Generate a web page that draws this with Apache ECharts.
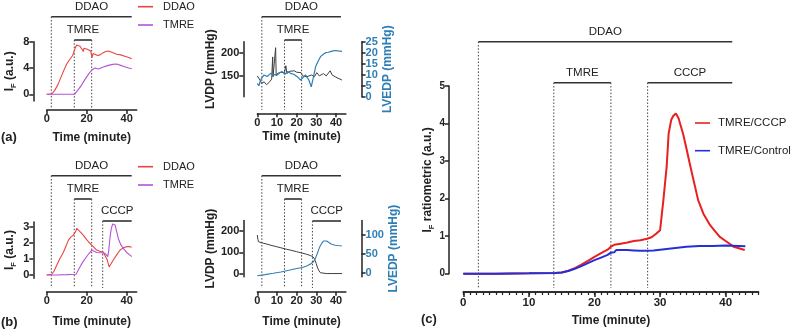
<!DOCTYPE html>
<html><head><meta charset="utf-8">
<script src="https://cdn.jsdelivr.net/npm/echarts@6/dist/echarts.min.js"></script>
<style>html,body{margin:0;padding:0;background:#fff}#c{width:793px;height:329px}</style>
</head><body><div id="c"></div>
<script>
// ---------------- data ----------------
// Panel (a) left: fluorescence intensity
const aDdaoT = [0, 1, 2.5, 4, 5.5, 7, 8.5, 10, 11.5, 13, 13.8, 14.3, 15, 16, 16.7, 17.5, 18.3, 18.6, 19.2, 20, 21, 22, 22.3, 22.6, 23.2, 24.2, 25.5, 26.7, 28, 29.5, 30.8, 32.5, 35, 37, 39, 41, 42.5];
const aDdaoV = [0, 0, 0.05, 0.6, 1.4, 2.5, 3.6, 4.6, 5.3, 5.9, 6.1, 7.1, 7.5, 7.2, 7.3, 7.1, 6.5, 7.0, 7.0, 6.9, 6.8, 6.6, 6.9, 5.6, 6.2, 6.1, 5.9, 6.0, 6.3, 6.5, 6.6, 6.4, 6.1, 6.0, 5.8, 5.6, 5.4];
const aTmreT = [0, 5, 10, 14, 15, 17, 19, 21, 22.5, 23.3, 24.2, 25.8, 28, 30.8, 33, 35, 37, 39, 41, 42.5];
const aTmreV = [0, 0, 0, 0.02, 0.1, 1.2, 2.2, 3.1, 3.7, 3.8, 4.0, 3.85, 4.1, 4.4, 4.55, 4.6, 4.4, 4.2, 4.0, 3.9];
// Panel (a) right: LVDP / LVEDP
const aLvdpT = [0, 0.5, 1.5, 2.2, 3.5, 4.7, 6, 7.3, 7.8, 8.0, 8.3, 8.8, 9.3, 9.6, 10.2, 11, 12, 13, 13.8, 14.5, 15, 16.5, 17.5, 18.8, 20, 21, 22.2, 23, 24, 25, 26, 27.6, 29, 30.2, 31.5, 33.6, 35, 37, 38, 39.6, 41, 43];
const aLvdpV = [150, 148, 140, 134, 137, 131, 136, 143, 191, 148, 150, 152, 211, 150, 155, 152, 158, 156, 157, 172, 155, 160, 162, 161, 158, 162, 157, 150, 152, 148, 145, 152, 148, 157, 150, 155, 150, 161, 152, 148, 145, 141];
const aLvedpT = [0, 0.8, 1.7, 3.4, 5, 6.8, 8.5, 10.2, 11.5, 12.7, 14, 15.5, 16.9, 18.5, 20.3, 21.2, 22, 23, 24.5, 25.3, 26.2, 27.4, 28.4, 29.6, 30.8, 32.1, 33.5, 34.7, 36, 37.2, 38.5, 39.8, 41, 43];
const aLvedpV = [6, 5, 7.6, 9.9, 9.2, 10.6, 10, 9.9, 11, 11.4, 10.2, 11.5, 10.6, 10.2, 9.1, 10, 7.6, 8.5, 9.9, 8.8, 7.6, 4.5, 8.4, 13.6, 16, 18.2, 19.3, 20, 20.2, 20.5, 20.8, 21, 20.8, 20.6];
// Panel (b) left
const bDdaoT = [0, 1, 2.5, 3.5, 5, 6.5, 8.3, 10, 10.8, 12, 13.3, 14, 14.5, 15, 16, 17, 18.3, 20, 21, 22.5, 23.5, 25, 26.5, 28.3, 29.3, 30.3, 31.2, 32, 33.3, 35, 36.7, 38.5, 40, 41.5, 42.5];
const bDdaoV = [0, 0, 0.05, 0.2, 0.6, 1.0, 1.4, 1.9, 2.15, 2.35, 2.48, 2.55, 2.7, 2.9, 2.8, 2.65, 2.48, 2.2, 2.05, 1.86, 1.75, 1.55, 1.48, 1.41, 1.3, 0.93, 0.5, 0.6, 0.93, 1.25, 1.55, 1.7, 1.76, 1.76, 1.72];
const bTmreT = [0, 5, 10, 14.7, 16, 18, 20, 22.5, 23.5, 25, 27, 29.2, 30, 30.5, 31, 31.7, 32.3, 33, 33.6, 34.2, 35, 35.8, 37, 38.3, 40, 41.5, 42.5];
const bTmreV = [0, 0, 0.02, 0.05, 0.35, 0.8, 1.15, 1.55, 1.5, 1.4, 1.38, 1.35, 1.25, 1.14, 1.5, 2.38, 2.9, 3.17, 3.25, 3.1, 2.7, 2.27, 1.9, 1.65, 1.4, 1.25, 1.14];
// Panel (b) right
const bLvdpT = [0, 0.3, 0.6, 1.5, 3, 4.5, 6.4, 8, 9.8, 12, 14.9, 17, 20, 22.5, 25.1, 27, 28.2, 29, 29.9, 30.5, 31.1, 31.6, 32, 33, 35, 38, 41, 43];
const bLvdpV = [180, 160, 149, 147, 142, 139, 134, 130, 126, 121, 114, 110, 103, 97, 91, 85, 80, 70, 49, 32, 18, 10, 6, 3, 2, 2, 2, 2];
const bLvedpT = [0, 4, 8.1, 12, 16.6, 20, 23, 25.1, 27, 28.5, 29.5, 30.5, 31.5, 32.7, 33.6, 34.4, 35.2, 36.1, 37.5, 39.5, 41, 42.9];
const bLvedpV = [-8, -5, -1.6, 2, 7, 11, 14, 18, 23, 29, 38, 51, 66, 78, 84, 86, 84, 80, 76, 73, 72, 71];
// Panel (c)
const cCcpT = [0, 5, 10, 14, 15, 16, 17, 18, 19, 20, 21, 22, 22.5, 23, 24, 25, 26, 27, 28, 28.7, 29.3, 30, 30.5, 31, 31.3, 31.7, 32, 32.4, 32.8, 33.5, 34, 34.5, 35.1, 35.8, 36.6, 37.6, 38.3, 39.1, 40, 41.2, 42, 42.9];
const cCcpV = [0, 0, 0.01, 0.02, 0.03, 0.08, 0.15, 0.24, 0.34, 0.45, 0.55, 0.64, 0.72, 0.77, 0.8, 0.83, 0.87, 0.89, 0.93, 0.97, 1.05, 1.16, 1.96, 2.85, 3.73, 4.1, 4.2, 4.27, 4.15, 3.73, 3.35, 2.95, 2.49, 1.96, 1.6, 1.3, 1.15, 0.98, 0.87, 0.72, 0.68, 0.63];
const cCtlT = [0, 5, 10, 14, 15, 16, 17, 18, 19, 20, 21, 22, 22.5, 23, 23.3, 23.6, 24, 25, 26, 27, 28, 29, 30, 32, 34, 36, 38, 40, 42, 43];
const cCtlV = [0, 0, 0.01, 0.02, 0.03, 0.07, 0.13, 0.2, 0.28, 0.36, 0.43, 0.5, 0.56, 0.57, 0.63, 0.62, 0.63, 0.63, 0.62, 0.61, 0.61, 0.62, 0.64, 0.68, 0.72, 0.74, 0.74, 0.75, 0.74, 0.73];
// Treatment periods (minutes)
const ddaoSpan = [2.3, 42.5];
const tmreSpan = [13.8, 22.5];
const cccpSpan = [28, 42.5];
const ddaoSpanC = [2.3, 41];
const cccpSpanC = [28.1, 41];
// Tick labels
const xTicksA = [0, 20, 40];
const xTicksB = [0, 10, 20, 30, 40];
const yTicksAL = [0, 4, 8];
const yTicksAR1 = [150, 200];
const yTicksBL = [0, 1, 2, 3];
const yTicksBR1 = [0, 100, 200];
const yTicksBR2 = [0, 50, 100];

// ---------------- styles ----------------
const FONT = 'Liberation Sans';
const RED = '#e8453f', PURPLE = '#b552d6', DARK = '#3f3f3f', LBLUE = '#2f7fb5';
const CRED = '#e82020', CBLUE = '#2430d8';
const zip = (t, v) => t.map((x, i) => [x, v[i]]);
const axLine = { show: true, onZero: false, lineStyle: { color: '#222', width: 1.5 } };
const lbl = (extra) => Object.assign({ fontFamily: FONT, fontWeight: 'bold', fontSize: 11, color: '#222' }, extra || {});
const nameRich = (size) => ({
  b: { fontFamily: FONT, fontWeight: 'bold', fontSize: size, color: '#222', lineHeight: size + 3 },
  s: { fontFamily: FONT, fontWeight: 'bold', fontSize: size * 0.62, color: '#222', lineHeight: size * 0.62, verticalAlign: 'bottom' }
});

function xAx(grid, ticks, offset, gap, extra) {
  return Object.assign({
    type: 'value', gridIndex: grid, min: 0, max: 45, offset: offset, position: 'bottom',
    axisLine: axLine, splitLine: { show: false },
    axisTick: { customValues: ticks, length: 4, lineStyle: { color: '#222', width: 1.5 } },
    axisLabel: lbl({ customValues: ticks, margin: 4 }),
    name: 'Time (minute)', nameLocation: 'middle', nameGap: gap,
    nameTextStyle: { fontFamily: FONT, fontWeight: 'bold', fontSize: 12, color: '#222' }
  }, extra || {});
}
function yAx(grid, min, max, ticks, offset, name, gap, pos, color, extra) {
  return Object.assign({
    type: 'value', gridIndex: grid, min: min, max: max, offset: offset, position: pos || 'left',
    axisLine: axLine, splitLine: { show: false },
    axisTick: { customValues: ticks, length: 4, lineStyle: { color: '#222', width: 1.5 } },
    axisLabel: lbl({ customValues: ticks, margin: 4, color: color || '#222' }),
    name: name, nameLocation: 'middle', nameGap: gap,
    nameTextStyle: { fontFamily: FONT, fontWeight: 'bold', fontSize: 12, color: color || '#222', rich: nameRich(12) }
  }, extra || {});
}
const IF = '{b|I}{s|F}{b| (a.u.)}';

const grids = [
  { left: 46.7, top: 41.7, width: 90, height: 59.2 },      // a left
  { left: 257.3, top: 41.7, width: 88.6, height: 55 },     // a right
  { left: 46.7, top: 221.9, width: 90, height: 56.3 },     // b left
  { left: 257.3, top: 220.5, width: 88.6, height: 56.2 },  // b right
  { left: 463.3, top: 86, width: 295.2, height: 187.7 }    // c
].map(g => Object.assign({ outerBoundsMode: 'none', containLabel: false }, g));

const minorC = [];
for (let i = 0; i <= 45; i++) minorC.push(i);

const xAxes = [
  xAx(0, xTicksA, 9, 22),
  xAx(1, xTicksB, 16.6, 17),
  xAx(2, xTicksA, 13.5, 24),
  xAx(3, xTicksB, 15, 24),
  xAx(4, xTicksB, 18.3, 23, { axisTick: { customValues: xTicksB, length: 5, lineStyle: { color: '#222', width: 1.5 } },
    axisLabel: lbl({ customValues: xTicksB, margin: 5, fontSize: 11.5 }) }),
  xAx(4, minorC, 18.3, 23, { name: '', axisLabel: { show: false }, axisTick: { customValues: minorC, length: 3, lineStyle: { color: '#222', width: 1.2 } } })
];
const yAxes = [
  yAx(0, -1, 8, yTicksAL, 13.4, IF, 16),
  yAx(1, 105, 224, yTicksAR1, 14, 'LVDP (mmHg)', 22),
  yAx(1, 0, 25, null, 15.7, 'LVEDP (mmHg)', 18, 'right', LBLUE, { interval: 5, axisTick: { length: 4, lineStyle: { color: '#222', width: 1.5 } }, axisLabel: lbl({ margin: 4, color: LBLUE }) }),
  yAx(2, -0.2, 3.3, yTicksBL, 13.4, IF, 16),
  yAx(3, -12.5, 247, yTicksBR1, 14, 'LVDP (mmHg)', 24),
  yAx(3, -10.6, 138.5, yTicksBR2, 15.7, 'LVEDP (mmHg)', 26, 'right', LBLUE),
  yAx(4, 0, 5, null, 14.3, '{b|I}{s|F}{b| ratiometric (a.u.)}', 12, 'left', null, { interval: 1, axisTick: { length: 4, lineStyle: { color: '#222', width: 1.5 } }, axisLabel: lbl({ margin: 4, fontSize: 10 }) })
];

function ln(name, xi, yi, data, color, w) {
  return { type: 'line', name: name, xAxisIndex: xi, yAxisIndex: yi, data: data, showSymbol: false, symbol: 'none',
    clip: false, lineStyle: { color: color, width: w }, itemStyle: { color: color }, animation: false };
}
const series = [
  ln('DDAO', 0, 0, zip(aDdaoT, aDdaoV), RED, 1.1),
  ln('TMRE', 0, 0, zip(aTmreT, aTmreV), PURPLE, 1.1),
  ln('LVDP', 1, 1, zip(aLvdpT, aLvdpV), DARK, 1),
  ln('LVEDP', 1, 2, zip(aLvedpT, aLvedpV), LBLUE, 1.2),
  ln('DDAO', 2, 3, zip(bDdaoT, bDdaoV), RED, 1.1),
  ln('TMRE', 2, 3, zip(bTmreT, bTmreV), PURPLE, 1.1),
  ln('LVDP', 3, 4, zip(bLvdpT, bLvdpV), DARK, 1),
  ln('LVEDP', 3, 5, zip(bLvedpT, bLvedpV), LBLUE, 1.1),
  ln('TMRE/CCCP', 4, 6, zip(cCcpT, cCcpV), CRED, 2),
  ln('TMRE/Control', 4, 6, zip(cCtlT, cCtlV), CBLUE, 2)
];

function legend(data, left, top, gap, size, pad) {
  return { data: data, orient: 'vertical', left: left, top: top, padding: 0, itemGap: gap, itemWidth: 15, itemHeight: 1.6,
    icon: 'rect', selectedMode: false,
    textStyle: { fontFamily: FONT, fontSize: size, color: '#222', lineHeight: 14, padding: [0, 0, 0, pad] } };
}

const chart = echarts.init(document.getElementById('c'), null, { renderer: 'canvas' });
chart.setOption({
  animation: false,
  backgroundColor: '#fff',
  grid: grids, xAxis: xAxes, yAxis: yAxes, series: series,
  legend: [
    legend(['DDAO', 'TMRE'], 138, -0.3, 4.3, 11, 5),
    legend(['DDAO', 'TMRE'], 138, 159.7, 4.3, 11, 5),
    legend(['TMRE/CCCP', 'TMRE/Control'], 695, 116, 13.7, 11.5, 3)
  ]
});

// ---------------- annotations (treatment brackets) ----------------
const layout = [
  { xi: 0, bottom: 108, items: [['DDAO', ddaoSpan, 16.7, 'start'], ['TMRE', tmreSpan, 40, 'both']] },
  { xi: 1, bottom: 110, items: [['DDAO', ddaoSpan, 16.7, 'start'], ['TMRE', tmreSpan, 40, 'both']] },
  { xi: 2, bottom: 288, items: [['DDAO', ddaoSpan, 175.7, 'start'], ['TMRE', tmreSpan, 199, 'both'], ['CCCP', cccpSpan, 221, 'start']] },
  { xi: 3, bottom: 288, items: [['DDAO', ddaoSpan, 175.7, 'start'], ['TMRE', tmreSpan, 199, 'both'], ['CCCP', cccpSpan, 221, 'start']] },
  { xi: 4, bottom: 288, items: [['DDAO', ddaoSpanC, 41.7, 'start'], ['TMRE', tmreSpan, 82.7, 'both'], ['CCCP', cccpSpanC, 82.7, 'start']] }
];
const g = [];
layout.forEach(p => {
  p.items.forEach(([label, span, y, mode]) => {
    const x1 = chart.convertToPixel({ xAxisIndex: p.xi }, span[0]);
    const x2 = chart.convertToPixel({ xAxisIndex: p.xi }, span[1]);
    g.push({ type: 'line', silent: true, shape: { x1: x1, y1: y, x2: x2, y2: y }, style: { stroke: '#333', lineWidth: 1.6 } });
    g.push({ type: 'text', silent: true, x: (x1 + x2) / 2, y: y - 10,
      style: { text: label, fill: '#222', font: '11.5px "Liberation Sans"', align: 'center', verticalAlign: 'middle' } });
    const xs = mode === 'both' ? [x1, x2] : [x1];
    xs.forEach(x => g.push({ type: 'line', silent: true, shape: { x1: x, y1: y, x2: x, y2: p.bottom },
      style: { stroke: '#444', lineWidth: 1, lineDash: [1.5, 1.8] } }));
  });
});
[['(a)', 1, 137], ['(b)', 1, 322], ['(c)', 421, 319]].forEach(([t, x, y]) => g.push({ type: 'text', silent: true, x: x, y: y,
  style: { text: t, fill: '#222', font: 'bold 13px "Liberation Sans"', align: 'left', verticalAlign: 'middle' } }));
chart.setOption({ graphic: g });
</script></body></html>
